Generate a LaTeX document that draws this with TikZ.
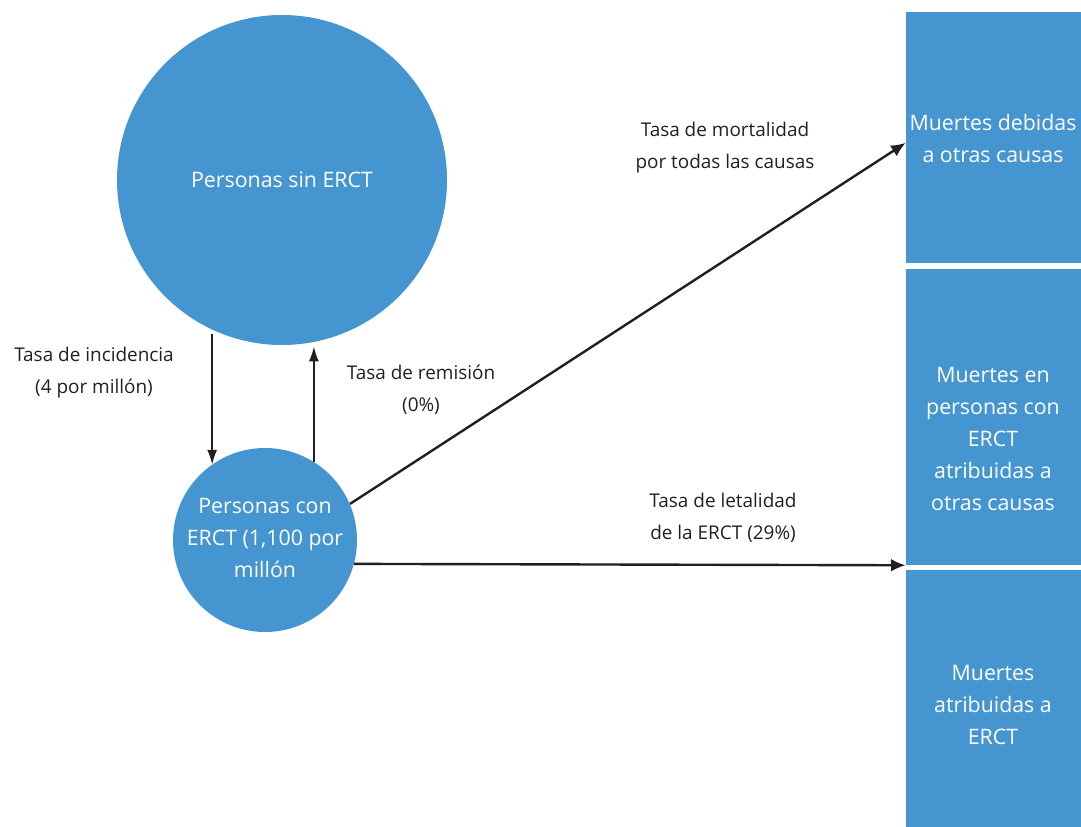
\documentclass[tikz,border=0pt]{standalone}
\usepackage{fontspec}
\setmainfont{Open Sans}
\usetikzlibrary{shapes.geometric, arrows.meta}
\usetikzlibrary{positioning}
\definecolor{ercblue}{RGB}{69,149,208}
\definecolor{inkblack}{RGB}{35,31,32}
\def\wfont{\fontsize{16}{24}\selectfont}
\def\rfont{\fontsize{14.2}{24}\selectfont}
\tikzstyle{pool}=[circle, fill=ercblue, text=white, align=center, font=\wfont, inner sep=0pt]
\tikzstyle{deaths}=[rectangle, fill=ercblue, minimum width=131.25pt, inner sep=0pt]
\tikzstyle{deathtext}=[text=white, align=center, font=\wfont]
\tikzstyle{rate}=[text=inkblack, align=center, font=\rfont]
\tikzstyle{flow}=[draw=inkblack, line width=1pt, -{Latex[length=11pt,width=7.5pt]}]
\tikzstyle{bigflow}=[draw=inkblack, line width=1.8pt, -{Latex[length=11pt,width=9.5pt]}]

\begin{document}
\begin{tikzpicture}[x=0.75pt, y=-0.75pt]
  \useasboundingbox (0,0) rectangle (1081,827);

  \node[pool, minimum size=247.5pt] (sin) at (282,180) {Personas sin ERCT};
  \node[pool, minimum size=138pt] (con) at (265,540) {};
  \node[deathtext] (tcon) at (265,538) {Personas con\\ERCT (1,100 por\\millón};

  \node[deaths, minimum height=188.25pt] (r1) at (993.5,137.5) {};
  \node[deaths, minimum height=222pt] (r2) at (993.5,417) {};
  \node[deaths, minimum height=192.75pt] (r3) at (993.5,698.5) {};

  \node[deathtext] (t1) at (993,139) {Muertes debidas\\a otras causas};
  \node[deathtext] (t2) at (993,439) {Muertes en\\personas con\\ERCT\\atribuidas a\\otras causas};
  \node[deathtext] (t3) at (993,705) {Muertes\\atribuidas a\\ERCT};

  \node[rate] (mort) at (725,148) {Tasa de mortalidad\\por todas las causas};
  \node[rate] (inc) at (94,373) {Tasa de incidencia\\(4 por millón)};
  \node[rate] (rem) at (421,390) {Tasa de remisión\\(0\%)};
  \node[rate] (let) at (723,518) {Tasa de letalidad\\de la ERCT (29\%)};

  \draw [flow, shorten <=3pt] (sin.245) -- (sin.245 |- con.125);
  \draw [flow, shorten >=3pt] (con.58.6) -- (con.58.6 |- sin.280.8);
  \draw [bigflow] (con.23.5) -- ([yshift=-4pt]r1.west);
  \draw [bigflow] (con.-15.8) -- (r2.south west);

\end{tikzpicture}
\end{document}
